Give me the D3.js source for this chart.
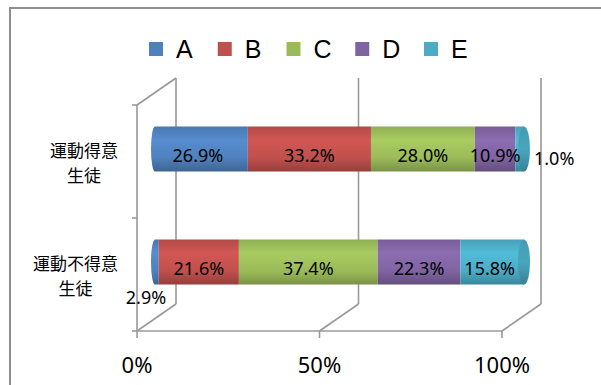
<!DOCTYPE html>
<html>
<head>
<meta charset="utf-8">
<script src="https://cdn.jsdelivr.net/npm/d3@7/dist/d3.min.js"></script>
<style>
  html, body { margin: 0; padding: 0; background: #fff; }
  svg { display: block; }
</style>
</head>
<body>
<svg id="chart" width="601" height="385"></svg>
<script>
// Category rows (each drawn on two lines)
const categories = ["運動得意生徒", "運動不得意生徒"];
const categoryLines = [["運動得意", "生徒"], ["運動不得意", "生徒"]];

// Stacked shares (%) per series, one value per category
const seriesNames = ["A", "B", "C", "D", "E"];
const valuesA = [26.9, 2.9];
const valuesB = [33.2, 21.6];
const valuesC = [28.0, 37.4];
const valuesD = [10.9, 22.3];
const valuesE = [1.0, 15.8];
const seriesColors = ["#4F81BD", "#C0504D", "#9BBB59", "#8064A2", "#4BACC6"];

// Value axis ticks
const tickValues = [0, 50, 100];
const tickLabels = ["0%", "50%", "100%"];

const seriesValues = [valuesA, valuesB, valuesC, valuesD, valuesE];

const svg = d3.select("#chart");

// Outer chart frame
svg.append("rect")
  .attr("x", 10).attr("y", 8).attr("width", 640).attr("height", 420)
  .attr("fill", "none").attr("stroke", "#8f8f8f").attr("stroke-width", 2);

// 3D box geometry: front plane scale and depth offset
const xFront = d3.scaleLinear().domain([0, 100]).range([137, 502]);
const depth = { dx: 39, dy: -27 };
const yFront = d3.scaleBand().domain(categories).range([105, 331]);
const xBar = d3.scaleLinear().domain([0, 100]).range([148, 519]);
const barShift = -12.5;   // bars sit halfway into the box
const barH = 45;
const capRx = 6;

const grid = svg.append("g")
  .attr("stroke", "#999999").attr("stroke-width", 1.6).attr("fill", "none");

const floorY = yFront.range()[1];
const topY = yFront.range()[0];

// Back wall gridlines and floor diagonals
tickValues.forEach(v => {
  const xf = xFront(v), xb = xf + depth.dx;
  grid.append("line").attr("x1", xb).attr("x2", xb)
    .attr("y1", topY + depth.dy).attr("y2", floorY + depth.dy);
  grid.append("line").attr("x1", xf).attr("y1", floorY)
    .attr("x2", xb).attr("y2", floorY + depth.dy);
  // tick below the floor edge
  grid.append("line").attr("x1", xf).attr("x2", xf)
    .attr("y1", floorY).attr("y2", floorY + 7);
});

// Floor front edge
grid.append("line").attr("x1", xFront(0)).attr("x2", xFront(100))
  .attr("y1", floorY).attr("y2", floorY);

// Left wall: front edge and top diagonal
grid.append("line").attr("x1", xFront(0)).attr("x2", xFront(0))
  .attr("y1", topY).attr("y2", floorY);
grid.append("line").attr("x1", xFront(0)).attr("y1", topY)
  .attr("x2", xFront(0) + depth.dx).attr("y2", topY + depth.dy);

// Category axis tick marks
[topY, yFront(categories[1]), floorY].forEach(y => {
  grid.append("line").attr("x1", xFront(0) - 5).attr("x2", xFront(0))
    .attr("y1", y).attr("y2", y);
});

// Cylinder shading gradients
const defs = svg.append("defs");
seriesColors.forEach((c, i) => {
  const base = d3.color(c);
  const g = defs.append("linearGradient")
    .attr("id", "grad" + i).attr("x1", 0).attr("y1", 0).attr("x2", 0).attr("y2", 1);
  [[0, base.darker(0.2)], [0.3, base.brighter(0.25)], [0.7, base],
   [1, base.darker(0.7)]].forEach(([o, col]) => {
    g.append("stop").attr("offset", o).attr("stop-color", col.formatHex());
  });
  const gc = defs.append("linearGradient")
    .attr("id", "cap" + i).attr("x1", 0).attr("y1", 0).attr("x2", 0).attr("y2", 1);
  [[0, base.darker(0.3)], [0.5, base.darker(0.1)], [1, base.darker(0.8)]]
    .forEach(([o, col]) => {
      gc.append("stop").attr("offset", o).attr("stop-color", col.formatHex());
    });
});

// Stack the series per category
const rows = categories.map((cat, ci) => {
  let acc = 0;
  return seriesNames.map((s, si) => {
    const v = seriesValues[si][ci];
    const seg = { cat, ci, si, v, x0: acc, x1: acc + v };
    acc += v;
    return seg;
  });
});

const bars = svg.append("g");
rows.forEach(segs => {
  const cy = yFront(segs[0].cat) + yFront.bandwidth() / 2 + barShift;
  const top = cy - barH / 2, bot = cy + barH / 2;
  const last = segs.length - 1;
  segs.forEach((s, k) => {
    let xa = xBar(s.x0), xb = xBar(s.x1);
    if (k === last) xb += 5;
    let d;
    if (k === 0) {
      const ex = xa + 7;
      d = `M${ex},${top} A4,${barH / 2} 0 0 0 ${ex},${bot} L${xb},${bot} L${xb},${top} Z`;
    } else {
      d = `M${xa},${top} L${xb},${top} L${xb},${bot} L${xa},${bot} Z`;
    }
    bars.append("path").attr("d", d).attr("fill", `url(#grad${s.si})`);
  });
  // right end face of the cylinder
  const ls = segs[last];
  bars.append("ellipse")
    .attr("cx", xBar(100) + 5).attr("cy", cy)
    .attr("rx", capRx).attr("ry", barH / 2)
    .attr("fill", `url(#cap${ls.si})`);
});

// Data labels
const labels = svg.append("g")
  .attr("font-family", "'Noto Sans', 'Open Sans', sans-serif")
  .attr("font-size", 18).attr("fill", "#000");
rows.forEach(segs => {
  const cy = yFront(segs[0].cat) + yFront.bandwidth() / 2 + barShift;
  segs.forEach((s, k) => {
    const txt = s.v.toFixed(1) + "%";
    const w = xBar(s.x1) - xBar(s.x0);
    if (w >= 20) {
      labels.append("text").attr("text-anchor", "middle")
        .attr("x", (xBar(s.x0) + xBar(s.x1)) / 2).attr("y", cy + 12.5).text(txt);
    } else if (k === segs.length - 1) {
      labels.append("text").attr("text-anchor", "start")
        .attr("x", xBar(s.x1) + 15).attr("y", cy + 16).text(txt);
    } else {
      labels.append("text").attr("text-anchor", "middle")
        .attr("x", xBar(s.x0) - 2).attr("y", cy + 41.5).text(txt);
    }
  });
});

// Category labels, centred lines in a right-aligned block
const catG = svg.append("g")
  .attr("font-family", "'Noto Sans CJK JP', sans-serif")
  .attr("font-size", 17).attr("fill", "#000");
categories.forEach((cat, ci) => {
  const cy = yFront(cat) + yFront.bandwidth() / 2;
  const lines = categoryLines[ci];
  const texts = lines.map((ln, li) =>
    catG.append("text").attr("text-anchor", "middle")
      .attr("y", cy - 10.5 + li * 25 + 6).text(ln));
  const maxW = d3.max(texts, t => t.node().getComputedTextLength());
  const cx = 118 - maxW / 2;
  texts.forEach(t => t.attr("x", cx));
});

// Value axis labels
const axisG = svg.append("g")
  .attr("font-family", "'Noto Sans', 'Open Sans', sans-serif")
  .attr("font-size", 22).attr("fill", "#000").attr("text-anchor", "middle");
tickValues.forEach((v, i) => {
  axisG.append("text").attr("x", xFront(v)).attr("y", 373).text(tickLabels[i]);
});

// Legend
const legend = svg.append("g");
const legX = d3.scalePoint().domain(seriesNames).range([149, 424]);
seriesNames.forEach((s, i) => {
  legend.append("rect").attr("x", legX(s)).attr("y", 42)
    .attr("width", 14).attr("height", 14).attr("fill", seriesColors[i]);
  legend.append("text").attr("x", legX(s) + 27).attr("y", 58)
    .attr("font-family", "'Liberation Sans', Arial, sans-serif")
    .attr("font-size", 25).attr("fill", "#000").text(s);
});
</script>
</body>
</html>
